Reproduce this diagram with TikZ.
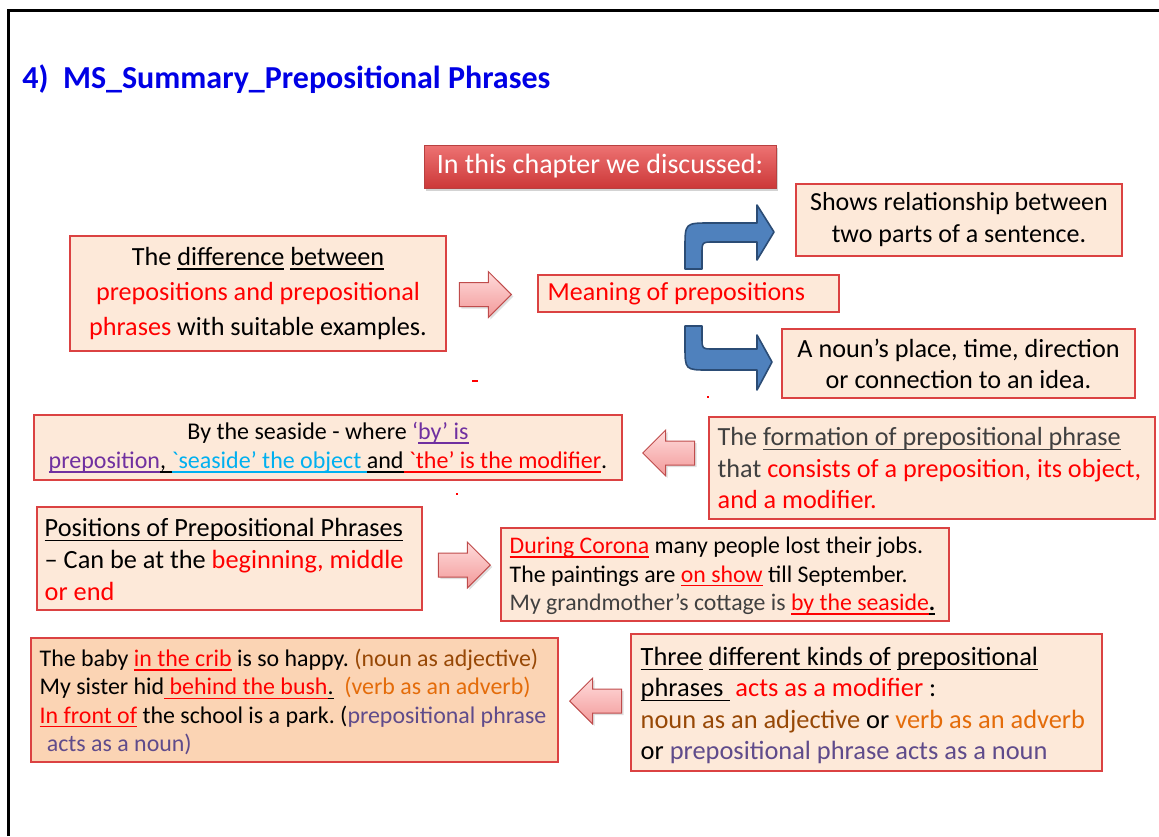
\documentclass[tikz,border=0pt]{standalone}
\usepackage{fontspec}
\setmainfont{Carlito}
\usetikzlibrary{shapes.arrows,shadows}
\newsavebox\ulnbox
\newcommand{\uln}[1]{\leavevmode\sbox\ulnbox{#1}\rlap{\rule[-0.17em]{\wd\ulnbox}{0.06em}}\usebox\ulnbox}
\frenchspacing

\begin{document}
\begin{tikzpicture}[x=0.5pt,y=-0.5pt,
  box/.style={draw=cbd,fill=cfb,line width=0.7pt,inner sep=0pt,align=center},
  txt/.style={anchor=west,align=left,inner sep=0pt},
  hdr/.style={draw=chd,top color=chdt,bottom color=chdb,text=white,minimum width=176pt,minimum height=21.5pt,inner sep=0pt,font=\fontsize{14}{16}\selectfont,drop shadow={opacity=0.35,shadow xshift=1pt,shadow yshift=-1.5pt}},
  parrow/.style={single arrow,anchor=tip,draw=cpa,top color=cpat,bottom color=cpab,line width=0.5pt,minimum height=26pt,minimum width=22.5pt,single arrow head extend=5.5pt,single arrow tip angle=90,inner xsep=0pt,inner ysep=5.75pt,drop shadow={opacity=0.25,shadow xshift=1pt,shadow yshift=-1pt}},
  barrow/.style={draw=cba,fill=cbf,line width=0.8pt,line join=round}]
\definecolor{cfb}{rgb}{0.992,0.914,0.851}
\definecolor{cfb2}{rgb}{0.984,0.831,0.706}
\definecolor{cbd}{rgb}{0.86,0.26,0.26}
\definecolor{cred}{rgb}{1.0,0.0,0.0}
\definecolor{cbrown}{rgb}{0.592,0.282,0.024}
\definecolor{corange}{rgb}{0.894,0.424,0.039}
\definecolor{cpurp}{rgb}{0.373,0.294,0.545}
\definecolor{cviolet}{rgb}{0.439,0.188,0.627}
\definecolor{ccyan}{rgb}{0.0,0.69,0.941}
\definecolor{cgray}{rgb}{0.25,0.25,0.25}
\definecolor{ctitle}{rgb}{0.0,0.0,0.9}
\definecolor{chd}{rgb}{0.72,0.25,0.25}
\definecolor{chdt}{rgb}{0.93,0.45,0.45}
\definecolor{chdb}{rgb}{0.80,0.22,0.22}
\definecolor{cpa}{rgb}{0.75,0.3,0.3}
\definecolor{cpat}{rgb}{1.0,0.86,0.86}
\definecolor{cpab}{rgb}{0.95,0.6,0.6}
\definecolor{cbf}{rgb}{0.31,0.506,0.741}
\definecolor{cba}{rgb}{0.17,0.30,0.46}
%
\useasboundingbox (0,0) rectangle (1159,836);
\draw[line width=1.5pt] (8,836) -- (8,10) -- (1159,10);
%
\node[anchor=base west,text=ctitle,font=\fontsize{16}{18}\selectfont\bfseries,inner sep=0pt] (t0) at (22,88) {4)\ \ MS\_Summary\_Prepositional Phrases};
\node[hdr] (h0) at (600,166.5) {In this chapter we discussed:};
%
% centred boxes
\node[box,minimum width=188pt,minimum height=57.5pt,font=\fontsize{13.1}{17.6}\selectfont] (b0) at (258,293.5) {The \uln{difference} \uln{between}\\ {\color{cred}prepositions and prepositional}\\ {\color{cred}phrases} with suitable examples.};
\node[box,minimum width=163pt,minimum height=36pt,font=\fontsize{13}{16}\selectfont] (b1) at (959,220) {Shows relationship between\\ two parts of a sentence.};
\node[box,minimum width=176.5pt,minimum height=34.5pt,font=\fontsize{13.1}{15.6}\selectfont] (b3) at (958.5,363.5) {A noun’s place, time, direction\\ or connection to an idea.};
\node[box,minimum width=294pt,minimum height=32.5pt,font=\fontsize{12}{14.6}\selectfont] (b4) at (328,447.5) {By the seaside - where {\color{cviolet}‘\uln{by’ is}}\\ {\color{cviolet}\uln{preposition}}\uln{, }{\color{ccyan}\uln{\textasciigrave seaside’ the object }}\uln{and}{\color{cred}\uln{ \textasciigrave the’ is the modifier}}.};
%
% boxes with text from the left
\node[box,minimum width=150.5pt,minimum height=18.5pt] (b2) at (688.5,293.5) {};
\node[txt,text=cred,font=\fontsize{13}{16}\selectfont] (l2) at ([xshift=5pt]b2.west) {Meaning of prepositions};
\node[box,minimum width=223pt,minimum height=51pt] (b5) at (932,468) {};
\node[txt,text=cgray,font=\fontsize{13.1}{15.6}\selectfont] (l5) at ([xshift=4.5pt]b5.west) {The \uln{formation of prepositional phrase}\\ that {\color{cred}consists of a preposition, its object,}\\ {\color{cred}and a modifier.}};
\node[box,minimum width=192.5pt,minimum height=51.5pt] (b6) at (229.5,558.5) {};
\node[txt,font=\fontsize{13.15}{15.8}\selectfont] (l6) at ([xshift=4pt,yshift=-0.5pt]b6.west) {\uln{Positions of Prepositional Phrases}\\ – Can be at the {\color{cred}beginning, middle}\\ {\color{cred}or end}};
\node[box,minimum width=224pt,minimum height=46.5pt] (b7) at (725,574.5) {};
\node[txt,font=\fontsize{11.9}{14.3}\selectfont] (l7) at ([xshift=4.5pt,yshift=-0.75pt]b7.west) {{\color{cred}\uln{During Corona}} many people lost their jobs.\\ The paintings are {\color{cred}\uln{on show}} till September.\\ {\color{cgray}My grandmother’s cottage is} {\color{cred}\uln{by the seaside}}\uln{\textbf{.}}};
\node[box,fill=cfb2,minimum width=263.5pt,minimum height=62pt] (b8) at (294.5,700) {};
\node[txt,font=\fontsize{11.95}{14.2}\selectfont] (l8) at ([xshift=4.5pt,yshift=-1pt]b8.west) {The baby {\color{cred}\uln{in the crib}} is so happy. {\color{cbrown}(noun as adjective)}\\ My sister hid{\color{cred}\uln{ behind the bush}}\uln{.}\ \ {\color{corange}(verb as an adverb)}\\ {\color{cred}\uln{In front of}} the school is a park. ({\color{cpurp}prepositional phrase}\\ \hspace*{0.3em}{\color{cpurp}acts as a noun)}};
\node[box,minimum width=235.5pt,minimum height=68.5pt] (b9) at (866.5,702.5) {};
\node[txt,font=\fontsize{13.2}{15.6}\selectfont] (l9) at ([xshift=5pt,yshift=-1.5pt]b9.west) {\uln{Three} \uln{different kinds of} \uln{prepositional}\\ \uln{phrases } {\color{cred}acts as a modifier} :\\ {\color{cbrown}noun as an adjective} or {\color{corange}verb as an adverb}\\ or {\color{cpurp}prepositional phrase acts as a noun}};
%
\node[parrow] (a0) at (512,294.5) {};
\node[parrow,shape border rotate=180] (a1) at (642,453) {};
\node[parrow] (a2) at (491,565) {};
\node[parrow,shape border rotate=180] (a3) at (569,701) {};
%
\filldraw[barrow] (685,269) -- (685,248) .. controls (685,223) .. (710,223) -- (757,223) -- (757,205) -- (774,232) -- (757,260) -- (757,242) -- (714,242) .. controls (702,242) .. (702,254) -- (702,269) -- cycle;
\filldraw[barrow] (685,326) -- (685,346) .. controls (685,370) .. (709,370) -- (757,370) -- (757,390) -- (772,362) -- (757,335) -- (757,349) -- (714,349) .. controls (702,349) .. (702,337) -- (702,326) -- cycle;
%
\draw[cred,line width=0.8pt] (472,381) -- (478,381);
\draw[cred,line width=0.8pt] (707,397) -- (709,397);
\draw[cred,line width=0.8pt] (456,494) -- (458,494);
%
\end{tikzpicture}
\end{document}
